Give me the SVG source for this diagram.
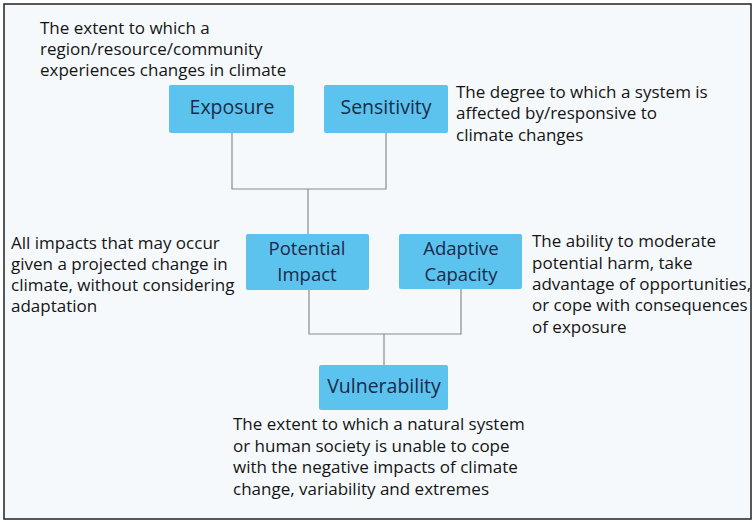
<svg xmlns="http://www.w3.org/2000/svg" width="755" height="522" viewBox="0 0 755 522">
<style>
.box{fill:#5cc3ef;}
.lbl{font-family:"Open Sans","Liberation Sans",sans-serif;font-size:19.5px;fill:#1b2a48;text-anchor:middle;}
.lbl2{font-size:18.5px;}
.desc{font-family:"Open Sans","Liberation Sans",sans-serif;font-size:17px;fill:#141414;}
.con{fill:none;stroke:#8a8a8a;stroke-width:1.2;}
</style>
<rect x="0" y="0" width="755" height="522" fill="#ffffff"/>
<rect x="4" y="4" width="747" height="515" fill="#f6f9fc" stroke="#222" stroke-width="1.5"/>
<g id="connectors">
<polyline class="con" points="232,133 232,189 386,189 386,133"/>
<line class="con" x1="308" y1="189" x2="308" y2="234"/>
<polyline class="con" points="309,290 309,334 461,334 461,289"/>
<line class="con" x1="384" y1="334" x2="384" y2="365"/>
</g>
<g id="exposure">
<rect class="box" x="169" y="85" width="125" height="48" rx="2"/>
<text class="lbl" x="232" y="114">Exposure</text>
<text class="desc" x="40" y="34">The extent to which a</text>
<text class="desc" x="40" y="55">region/resource/community</text>
<text class="desc" x="40" y="76">experiences changes in climate</text>
</g>
<g id="sensitivity">
<rect class="box" x="324" y="85" width="124" height="48" rx="2"/>
<text class="lbl" x="386" y="114">Sensitivity</text>
<text class="desc" x="456" y="98">The degree to which a system is</text>
<text class="desc" x="456" y="119">affected by/responsive to</text>
<text class="desc" x="456" y="141">climate changes</text>
</g>
<g id="potential-impact">
<rect class="box" x="246" y="234" width="123" height="56" rx="2"/>
<text class="lbl lbl2" x="307" y="255">Potential<tspan x="307" dy="25.5">Impact</tspan></text>
<text class="desc" x="11" y="249">All impacts that may occur</text>
<text class="desc" x="11" y="270">given a projected change in</text>
<text class="desc" x="11" y="291">climate, without considering</text>
<text class="desc" x="11" y="312">adaptation</text>
</g>
<g id="adaptive-capacity">
<rect class="box" x="399" y="234" width="123" height="55" rx="2"/>
<text class="lbl lbl2" x="461" y="255">Adaptive<tspan x="461" dy="25.5">Capacity</tspan></text>
<text class="desc" x="532" y="247">The ability to moderate</text>
<text class="desc" x="532" y="269">potential harm, take</text>
<text class="desc" x="532" y="290">advantage of opportunities,</text>
<text class="desc" x="532" y="311">or cope with consequences</text>
<text class="desc" x="532" y="333">of exposure</text>
</g>
<g id="vulnerability">
<rect class="box" x="319" y="365" width="129" height="45" rx="2"/>
<text class="lbl" x="384" y="393">Vulnerability</text>
<text class="desc" x="233" y="430">The extent to which a natural system</text>
<text class="desc" x="233" y="452">or human society is unable to cope</text>
<text class="desc" x="233" y="473">with the negative impacts of climate</text>
<text class="desc" x="233" y="495">change, variability and extremes</text>
</g>
</svg>
